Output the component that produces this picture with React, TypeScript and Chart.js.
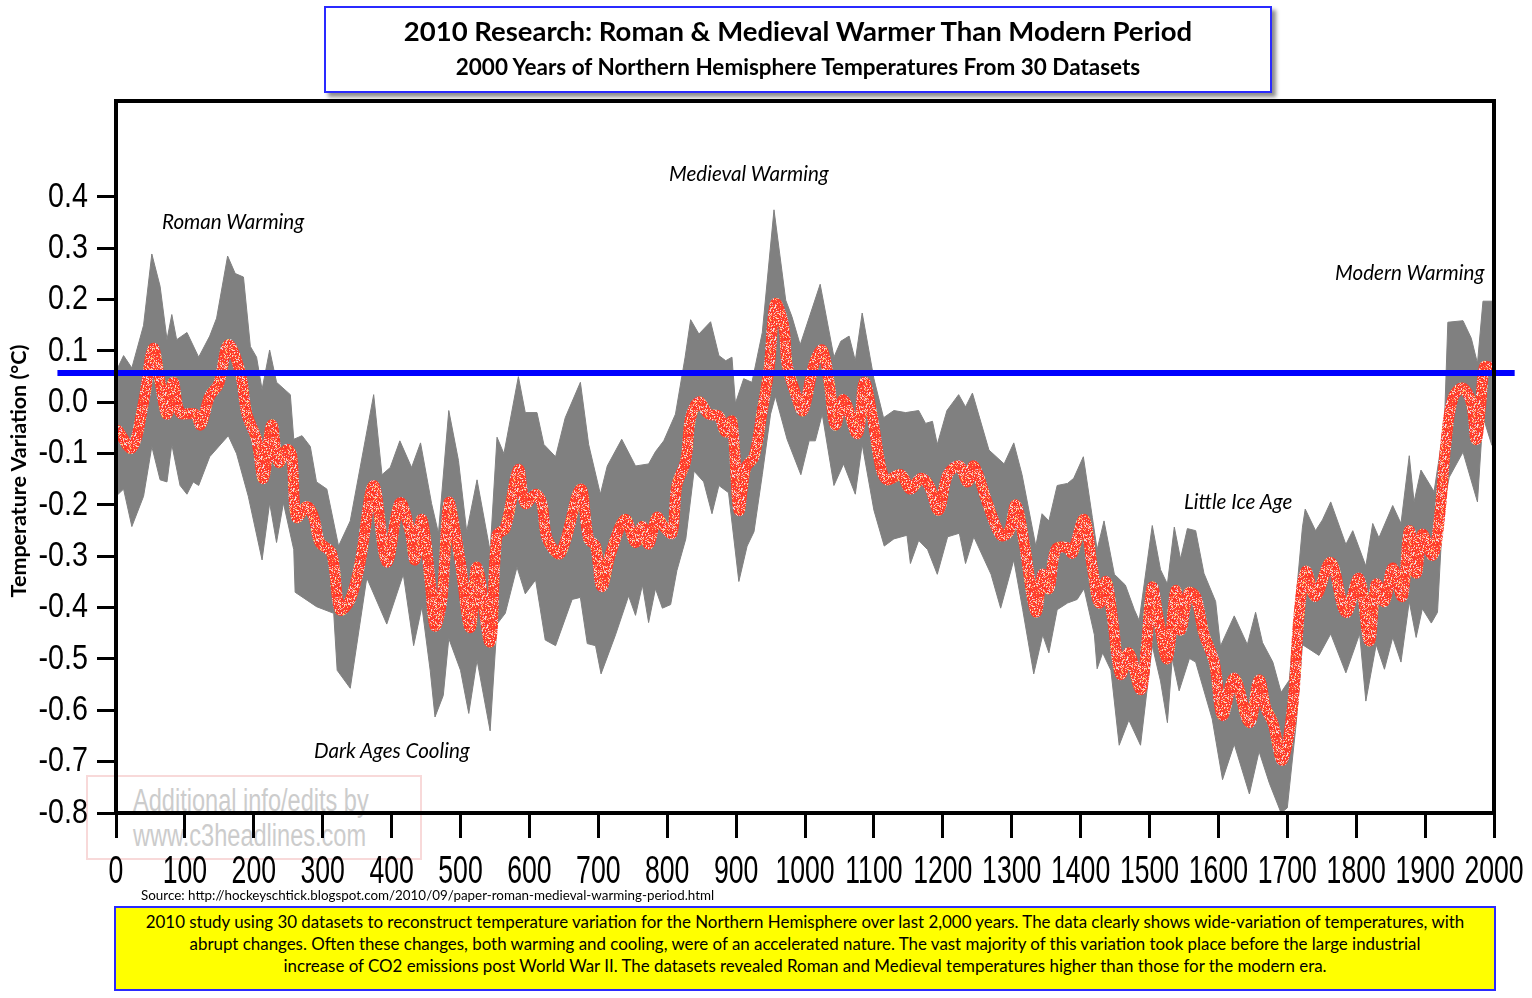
import React, { useEffect, useRef } from 'react';
import { Chart, registerables } from 'chart.js';
Chart.register(...registerables);

// ---------- data ----------
const xTicks = [0, 100, 200, 300, 400, 500, 600, 700, 800, 900, 1000, 1100, 1200, 1300, 1400, 1500, 1600, 1700, 1800, 1900, 2000];
const yTicks = [0.4, 0.3, 0.2, 0.1, 0.0, -0.1, -0.2, -0.3, -0.4, -0.5, -0.6, -0.7, -0.8];

const modernLevel = 0.057;
const modernLineYears = [-85, 2030];

const meanYears = [3, 23, 40, 54, 64, 74, 83, 93, 115, 123, 136, 149, 163, 180, 190, 204, 214, 226, 236, 248, 255, 262, 277, 287, 296, 313, 325, 340, 354, 374, 393, 412, 427, 434, 444, 456, 463, 473, 483, 492, 500, 514, 524, 543, 553, 565, 584, 594, 609, 618, 626, 645, 674, 686, 696, 705, 718, 739, 754, 764, 773, 785, 795, 807, 814, 827, 834, 846, 860, 875, 885, 894, 904, 914, 926, 938, 948, 957, 969, 974, 986, 997, 1013, 1025, 1035, 1044, 1056, 1076, 1086, 1098, 1110, 1119, 1139, 1153, 1168, 1180, 1194, 1207, 1224, 1236, 1245, 1265, 1284, 1296, 1306, 1318, 1335, 1345, 1354, 1364, 1381, 1388, 1405, 1417, 1427, 1437, 1446, 1458, 1470, 1487, 1495, 1504, 1514, 1526, 1538, 1545, 1557, 1567, 1579, 1594, 1606, 1623, 1645, 1659, 1669, 1679, 1693, 1708, 1717, 1727, 1741, 1763, 1785, 1804, 1819, 1829, 1841, 1853, 1867, 1877, 1887, 1896, 1911, 1921, 1930, 1940, 1954, 1967, 1974, 1981, 1986, 1994];
const meanValues = [-0.055, -0.089, 0.0, 0.105, 0.039, -0.023, 0.039, -0.02, -0.023, -0.044, 0.012, 0.036, 0.112, 0.06, -0.023, -0.072, -0.148, -0.044, -0.117, -0.092, -0.103, -0.224, -0.203, -0.224, -0.273, -0.294, -0.404, -0.384, -0.314, -0.162, -0.311, -0.196, -0.252, -0.307, -0.228, -0.349, -0.436, -0.384, -0.196, -0.25, -0.314, -0.439, -0.321, -0.467, -0.259, -0.245, -0.131, -0.197, -0.179, -0.197, -0.266, -0.294, -0.169, -0.266, -0.28, -0.359, -0.294, -0.228, -0.273, -0.242, -0.276, -0.224, -0.242, -0.255, -0.162, -0.113, -0.03, 0.001, -0.023, -0.027, -0.058, -0.037, -0.21, -0.127, -0.106, -0.016, 0.067, 0.192, 0.15, 0.074, 0.018, -0.016, 0.074, 0.102, 0.039, -0.044, 0.005, -0.061, 0.039, -0.03, -0.127, -0.151, -0.141, -0.169, -0.148, -0.162, -0.21, -0.141, -0.124, -0.155, -0.124, -0.197, -0.259, -0.252, -0.2, -0.273, -0.408, -0.335, -0.363, -0.287, -0.283, -0.294, -0.228, -0.321, -0.391, -0.349, -0.418, -0.53, -0.488, -0.56, -0.485, -0.36, -0.43, -0.499, -0.367, -0.444, -0.371, -0.378, -0.451, -0.506, -0.61, -0.537, -0.624, -0.541, -0.596, -0.624, -0.697, -0.589, -0.416, -0.329, -0.378, -0.312, -0.409, -0.343, -0.465, -0.354, -0.388, -0.323, -0.378, -0.25, -0.333, -0.257, -0.298, -0.222, -0.083, 0.007, 0.028, 0.0, -0.073, 0.0, 0.069, 0.069];

const upperYears = [0, 11, 23, 40, 52, 64, 74, 81, 88, 103, 120, 136, 146, 162, 173, 185, 195, 204, 212, 223, 233, 253, 258, 270, 282, 291, 306, 323, 340, 374, 386, 398, 412, 429, 442, 458, 468, 483, 497, 509, 524, 543, 553, 563, 584, 594, 611, 621, 638, 652, 674, 686, 703, 713, 734, 754, 773, 783, 795, 812, 826, 834, 846, 863, 875, 885, 894, 899, 911, 923, 938, 955, 972, 981, 993, 1022, 1042, 1052, 1064, 1073, 1083, 1100, 1114, 1129, 1146, 1165, 1175, 1185, 1192, 1206, 1223, 1233, 1243, 1267, 1289, 1303, 1315, 1335, 1344, 1354, 1366, 1381, 1390, 1404, 1417, 1424, 1434, 1449, 1465, 1478, 1485, 1504, 1516, 1526, 1536, 1545, 1555, 1567, 1579, 1596, 1603, 1623, 1642, 1654, 1664, 1679, 1691, 1703, 1715, 1722, 1726, 1741, 1751, 1763, 1785, 1795, 1814, 1824, 1833, 1853, 1865, 1877, 1884, 1894, 1913, 1928, 1933, 1955, 1967, 1976, 1984, 1997];
const upperValues = [0.06, 0.091, 0.067, 0.15, 0.289, 0.226, 0.122, 0.171, 0.122, 0.136, 0.088, 0.129, 0.164, 0.285, 0.251, 0.244, 0.109, 0.088, 0.025, 0.102, 0.039, 0.015, -0.072, -0.065, -0.086, -0.155, -0.169, -0.28, -0.231, 0.015, -0.141, -0.127, -0.075, -0.127, -0.079, -0.197, -0.255, -0.016, -0.113, -0.252, -0.151, -0.29, -0.068, -0.1, 0.05, -0.02, -0.02, -0.082, -0.106, -0.03, 0.039, -0.082, -0.179, -0.124, -0.072, -0.124, -0.12, -0.096, -0.075, -0.023, 0.088, 0.161, 0.133, 0.157, 0.091, 0.081, 0.088, -0.002, 0.046, 0.039, 0.136, 0.375, 0.199, 0.167, 0.112, 0.23, 0.088, 0.119, 0.129, 0.081, 0.174, 0.046, -0.03, -0.016, -0.02, -0.016, -0.041, -0.037, -0.082, -0.016, 0.015, -0.009, 0.018, -0.093, -0.12, -0.079, -0.141, -0.28, -0.217, -0.231, -0.162, -0.158, -0.148, -0.106, -0.224, -0.287, -0.231, -0.335, -0.356, -0.404, -0.425, -0.24, -0.326, -0.354, -0.243, -0.305, -0.246, -0.25, -0.333, -0.388, -0.475, -0.416, -0.472, -0.409, -0.468, -0.506, -0.565, -0.541, -0.347, -0.243, -0.208, -0.25, -0.229, -0.194, -0.277, -0.25, -0.319, -0.236, -0.264, -0.201, -0.236, -0.104, -0.194, -0.132, -0.174, -0.042, 0.156, 0.159, 0.125, 0.076, 0.197, 0.197];

const lowerYears = [0, 11, 23, 40, 52, 64, 74, 81, 93, 103, 112, 120, 136, 163, 175, 192, 212, 223, 233, 243, 258, 260, 291, 316, 321, 340, 364, 393, 417, 432, 444, 456, 463, 475, 483, 500, 512, 524, 543, 553, 565, 582, 594, 609, 623, 638, 662, 674, 684, 696, 704, 725, 744, 754, 764, 773, 783, 793, 805, 814, 827, 839, 853, 865, 875, 889, 904, 916, 926, 938, 950, 957, 974, 994, 1006, 1015, 1025, 1042, 1056, 1073, 1083, 1100, 1115, 1129, 1148, 1153, 1165, 1178, 1192, 1207, 1224, 1233, 1245, 1270, 1284, 1303, 1316, 1332, 1345, 1354, 1366, 1381, 1395, 1405, 1420, 1424, 1432, 1444, 1456, 1470, 1487, 1504, 1516, 1526, 1533, 1543, 1558, 1567, 1591, 1606, 1623, 1645, 1659, 1674, 1691, 1700, 1713, 1722, 1746, 1763, 1785, 1805, 1814, 1829, 1841, 1853, 1865, 1877, 1887, 1896, 1909, 1918, 1926, 1935, 1955, 1976, 1984, 1997];
const lowerValues = [-0.183, -0.169, -0.242, -0.183, -0.086, -0.151, -0.155, -0.082, -0.162, -0.179, -0.155, -0.162, -0.106, -0.065, -0.1, -0.183, -0.307, -0.196, -0.273, -0.196, -0.287, -0.37, -0.398, -0.411, -0.522, -0.557, -0.342, -0.432, -0.335, -0.474, -0.398, -0.522, -0.613, -0.571, -0.46, -0.522, -0.606, -0.502, -0.64, -0.432, -0.411, -0.321, -0.373, -0.346, -0.463, -0.474, -0.384, -0.38, -0.47, -0.474, -0.529, -0.453, -0.377, -0.415, -0.356, -0.429, -0.363, -0.401, -0.394, -0.328, -0.266, -0.134, -0.155, -0.217, -0.162, -0.176, -0.349, -0.28, -0.252, -0.141, -0.023, 0.012, -0.072, -0.141, -0.075, -0.075, -0.023, -0.162, -0.12, -0.179, -0.082, -0.21, -0.28, -0.266, -0.259, -0.314, -0.269, -0.287, -0.335, -0.262, -0.255, -0.314, -0.262, -0.335, -0.401, -0.307, -0.404, -0.529, -0.453, -0.488, -0.404, -0.391, -0.384, -0.363, -0.453, -0.519, -0.488, -0.522, -0.668, -0.619, -0.668, -0.474, -0.543, -0.624, -0.499, -0.562, -0.499, -0.506, -0.617, -0.735, -0.666, -0.763, -0.68, -0.742, -0.8, -0.79, -0.624, -0.472, -0.493, -0.451, -0.527, -0.451, -0.582, -0.472, -0.52, -0.458, -0.506, -0.388, -0.458, -0.402, -0.43, -0.409, -0.208, -0.146, -0.097, -0.194, -0.028, -0.084];

const periodLabels = ['Roman Warming', 'Medieval Warming', 'Modern Warming', 'Little Ice Age', 'Dark Ages Cooling'];

// ---------- styling ----------
const TICKFONT = '"Liberation Sans", Arial, sans-serif';
const SANS = 'Lato, "Open Sans", "Noto Sans", sans-serif';

function makeSpeckle(): CanvasPattern | string {
  const c = document.createElement('canvas');
  c.width = 32;
  c.height = 32;
  const g = c.getContext('2d');
  if (!g) return '#ff4433';
  g.fillStyle = '#ff3f2e';
  g.fillRect(0, 0, 32, 32);
  const palette = ['#ff9a70', '#ffc2bc', '#ffd27a', '#ff6a4a', '#f4dede', '#ff2a1a', '#e8a0c0'];
  for (let j = 0; j < 32; j++) {
    for (let i = 0; i < 32; i++) {
      let h = Math.imul(i + 17, 374761393) ^ Math.imul(j + 5, 668265263);
      h = Math.imul(h ^ (h >>> 13), 1274126177);
      h = (h ^ (h >>> 16)) >>> 0;
      if ((h & 7) < 3) {
        g.fillStyle = palette[(h >>> 8) % palette.length];
        g.fillRect(i, j, 1, 1);
      }
    }
  }
  return g.createPattern(c, 'repeat') || '#ff4433';
}

// frame + condensed tick labels (labels come from the tick arrays, positioned by the scales)
const framePlugin = {
  id: 'frame',
  afterDraw(chart: any) {
    const { ctx, chartArea } = chart;
    const xs = chart.scales.x;
    const ys = chart.scales.y;
    ctx.save();
    ctx.strokeStyle = '#000';
    ctx.lineWidth = 4;
    ctx.strokeRect(chartArea.left, chartArea.top, chartArea.right - chartArea.left, chartArea.bottom - chartArea.top);
    ctx.fillStyle = '#000';
    ctx.textBaseline = 'middle';
    // x labels
    ctx.font = `38px ${TICKFONT}`;
    ctx.textAlign = 'center';
    for (const v of xTicks) {
      const px = xs.getPixelForValue(v);
      ctx.save();
      ctx.translate(px, xs.top + 60);
      ctx.scale(0.7, 1);
      ctx.fillText(String(v), 0, 0);
      ctx.restore();
    }
    // y labels
    ctx.font = `35px ${TICKFONT}`;
    ctx.textAlign = 'right';
    for (const v of yTicks) {
      const py = ys.getPixelForValue(v);
      ctx.save();
      ctx.translate(ys.right - 28, py);
      ctx.scale(0.82, 1);
      ctx.fillText(v.toFixed(1), 0, 0);
      ctx.restore();
    }
    ctx.restore();
  },
};

function ChartCanvas() {
  const ref = useRef<HTMLCanvasElement | null>(null);
  useEffect(() => {
    if (!ref.current) return;
    const speckle = makeSpeckle();
    const chart = new Chart(ref.current, {
      type: 'line',
      data: {
        datasets: [
          {
            label: 'Modern level',
            data: modernLineYears.map((x) => ({ x, y: modernLevel })),
            borderColor: '#0000ff',
            borderWidth: 6,
            pointRadius: 0,
            fill: false,
            clip: false as any,
            order: 0,
          },
          {
            label: 'Mean',
            data: meanYears.map((x, i) => ({ x, y: meanValues[i] })),
            borderColor: speckle as any,
            borderWidth: 11,
            borderCapStyle: 'round',
            borderJoinStyle: 'round',
            tension: 0.35,
            pointRadius: 0,
            fill: false,
            order: 1,
          },
          {
            label: 'Upper',
            data: upperYears.map((x, i) => ({ x, y: upperValues[i] })),
            borderColor: '#808080',
            borderWidth: 1,
            backgroundColor: '#808080',
            pointRadius: 0,
            fill: '+1',
            order: 2,
          },
          {
            label: 'Lower',
            data: lowerYears.map((x, i) => ({ x, y: lowerValues[i] })),
            borderColor: '#808080',
            borderWidth: 1,
            pointRadius: 0,
            fill: false,
            order: 3,
          },
        ],
      },
      options: {
        animation: false,
        responsive: false,
        devicePixelRatio: 1,
        events: [],
        layout: { padding: { top: 101, right: 38, left: 0, bottom: 0 } },
        plugins: { legend: { display: false }, tooltip: { enabled: false }, title: { display: false } },
        scales: {
          x: {
            type: 'linear',
            min: 0,
            max: 2000,
            afterFit: (s: any) => { s.height = 185; },
            afterBuildTicks: (s: any) => { s.ticks = xTicks.map((v) => ({ value: v })); },
            ticks: { display: false },
            grid: { display: true, drawOnChartArea: false, drawTicks: true, tickLength: 25, tickWidth: 3, tickColor: '#000' },
            border: { display: true, color: '#000', width: 4 },
          },
          y: {
            type: 'linear',
            min: -0.8,
            max: 0.587,
            afterFit: (s: any) => { s.width = 116; },
            afterBuildTicks: (s: any) => { s.ticks = yTicks.map((v) => ({ value: v })); },
            ticks: { display: false },
            grid: { display: true, drawOnChartArea: false, drawTicks: true, tickLength: 19, tickWidth: 3, tickColor: '#000' },
            border: { display: true, color: '#000', width: 4 },
          },
        },
      } as any,
      plugins: [framePlugin],
    });
    return () => chart.destroy();
  }, []);
  return <canvas ref={ref} width={1532} height={998} style={{ position: 'absolute', left: 0, top: 0, zIndex: 1 }} />;
}

const annoStyle = (left: number, cy: number): React.CSSProperties => ({
  position: 'absolute',
  left,
  top: cy - 13,
  lineHeight: '26px',
  fontFamily: SANS,
  fontStyle: 'italic',
  fontSize: 20.6,
  color: '#000',
  whiteSpace: 'nowrap',
  zIndex: 2,
});

export default function App() {
  return (
    <div style={{ position: 'fixed', left: 0, top: 0, width: 1532, height: 998, background: '#fff', overflow: 'hidden' }}>
      {/* watermark */}
      <div style={{ position: 'absolute', left: 86, top: 775, width: 332, height: 81, border: '2px solid rgba(240,170,170,0.45)', zIndex: 0 }}>
        <div style={{ position: 'absolute', left: 45, top: 6, fontFamily: TICKFONT, fontSize: 31, lineHeight: '35px', color: '#cccccc', whiteSpace: 'nowrap', transform: 'scaleX(0.76)', transformOrigin: 'left top' }}>
          Additional info/edits by<br />www.c3headlines.com
        </div>
      </div>

      <ChartCanvas />

      {/* title box */}
      <div style={{ position: 'absolute', left: 324, top: 6, width: 944, height: 83, border: '2px solid #2a2aff', boxShadow: '4px 4px 4px rgba(0,0,0,0.45)', background: '#fff', zIndex: 2, textAlign: 'center', fontFamily: SANS, fontWeight: 700, color: '#000' }}>
        <div style={{ position: 'absolute', left: 0, right: 0, top: 6, fontSize: 27.5, lineHeight: '34px', whiteSpace: 'nowrap' }}>2010 Research: Roman &amp; Medieval Warmer Than Modern Period</div>
        <div style={{ position: 'absolute', left: 0, right: 0, top: 45, fontSize: 22.5, lineHeight: '28px', whiteSpace: 'nowrap' }}>2000 Years of Northern Hemisphere Temperatures From 30 Datasets</div>
      </div>

      {/* y-axis title */}
      <div style={{ position: 'absolute', left: 18 - 160, top: 471 - 14, width: 320, height: 28, lineHeight: '28px', textAlign: 'center', transform: 'rotate(-90deg)', fontFamily: SANS, fontWeight: 700, fontSize: 21.5, color: '#000', whiteSpace: 'nowrap', zIndex: 2 }}>
        Temperature Variation (°C)
      </div>

      {/* period annotations */}
      <div style={annoStyle(162, 221)}>{periodLabels[0]}</div>
      <div style={annoStyle(669, 173)}>{periodLabels[1]}</div>
      <div style={annoStyle(1335, 272)}>{periodLabels[2]}</div>
      <div style={annoStyle(1184, 501)}>{periodLabels[3]}</div>
      <div style={annoStyle(314, 750)}>{periodLabels[4]}</div>

      {/* source */}
      <div style={{ position: 'absolute', left: 141, top: 887, lineHeight: '17px', fontFamily: SANS, fontSize: 13.4, color: '#000', whiteSpace: 'nowrap', zIndex: 2 }}>
        Source: http://hockeyschtick.blogspot.com/2010/09/paper-roman-medieval-warming-period.html
      </div>

      {/* footer box */}
      <div style={{ position: 'absolute', left: 114, top: 906, width: 1378, height: 78, border: '2px solid #2a2aff', background: '#ffff00', zIndex: 2, textAlign: 'center', fontFamily: SANS, fontSize: 16.9, lineHeight: '22px', color: '#000', paddingTop: 3, boxSizing: 'content-box' }}>
        <div style={{ whiteSpace: 'nowrap' }}>2010 study using 30 datasets to reconstruct temperature variation for the Northern Hemisphere over last 2,000 years. The data clearly shows wide-variation of temperatures, with</div>
        <div style={{ whiteSpace: 'nowrap' }}>abrupt changes. Often these changes, both warming and cooling, were of an accelerated nature. The vast majority of this variation took place before the large industrial</div>
        <div style={{ whiteSpace: 'nowrap' }}>increase of CO2 emissions post World War II. The datasets revealed Roman and Medieval temperatures higher than those for the modern era.</div>
      </div>
    </div>
  );
}
